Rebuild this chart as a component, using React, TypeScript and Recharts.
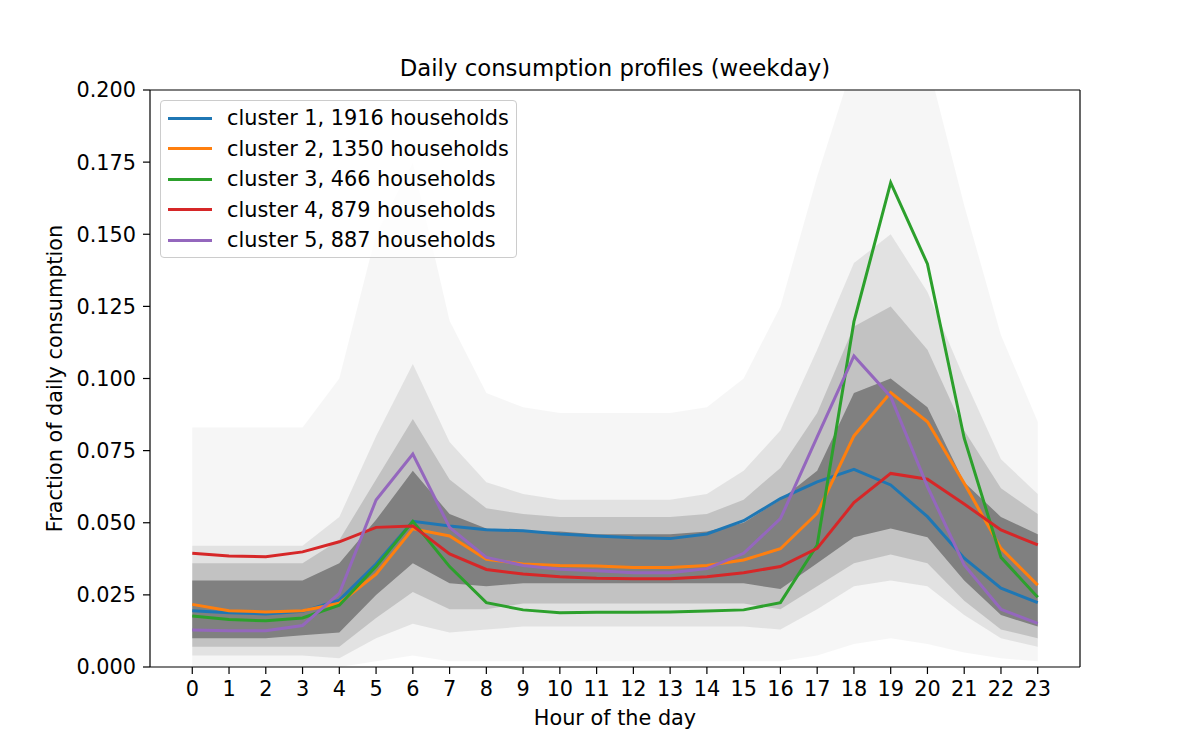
import React from "react";
import { Area, ComposedChart, Label, Line, ReferenceLine, XAxis, YAxis } from "recharts";

// hours of the day
const hours = [0, 1, 2, 3, 4, 5, 6, 7, 8, 9, 10, 11, 12, 13, 14, 15, 16, 17, 18, 19, 20, 21, 22, 23];

// cluster mean profiles (fraction of daily consumption)
const cluster1 = [0.0195, 0.0188, 0.0184, 0.0193, 0.0232, 0.0357, 0.0505, 0.0489, 0.0476, 0.0472, 0.0461, 0.0454, 0.0448, 0.0445, 0.0461, 0.0507, 0.0584, 0.0642, 0.0685, 0.0631, 0.0521, 0.0377, 0.0273, 0.0223];
const cluster2 = [0.0217, 0.0195, 0.0191, 0.0195, 0.0221, 0.0322, 0.0479, 0.0454, 0.0373, 0.0357, 0.0352, 0.035, 0.0345, 0.0345, 0.0352, 0.0371, 0.041, 0.0533, 0.0801, 0.0951, 0.085, 0.0637, 0.0411, 0.0284];
const cluster3 = [0.0177, 0.0165, 0.016, 0.017, 0.0214, 0.0348, 0.0505, 0.0348, 0.0223, 0.0198, 0.0188, 0.019, 0.019, 0.0191, 0.0194, 0.0198, 0.0223, 0.0423, 0.1197, 0.1679, 0.1397, 0.0793, 0.038, 0.0242];
const cluster4 = [0.0394, 0.0385, 0.0382, 0.0399, 0.0434, 0.0484, 0.0489, 0.0392, 0.0338, 0.0322, 0.0313, 0.0308, 0.0306, 0.0306, 0.0313, 0.0327, 0.0348, 0.0411, 0.057, 0.0671, 0.0651, 0.0565, 0.0475, 0.0423];
const cluster5 = [0.0128, 0.0126, 0.0126, 0.0144, 0.0255, 0.0579, 0.0738, 0.0484, 0.038, 0.0352, 0.0339, 0.0334, 0.0327, 0.0327, 0.0341, 0.0394, 0.0514, 0.0798, 0.1078, 0.0937, 0.0625, 0.0354, 0.02, 0.0151];

const clusterNames = [
	"cluster 1, 1916 households",
	"cluster 2, 1350 households",
	"cluster 3, 466 households",
	"cluster 4, 879 households",
	"cluster 5, 887 households",
];
const clusterColors = ["#1f77b4", "#ff7f0e", "#2ca02c", "#d62728", "#9467bd"];

// envelope of the individual household curves, drawn as grey bands
const coreLo = [0.01, 0.01, 0.01, 0.011, 0.012, 0.025, 0.036, 0.029, 0.028, 0.029, 0.029, 0.029, 0.029, 0.029, 0.029, 0.029, 0.027, 0.036, 0.045, 0.048, 0.045, 0.03, 0.018, 0.014];
const coreHi = [0.03, 0.03, 0.03, 0.03, 0.036, 0.051, 0.068, 0.053, 0.048, 0.047, 0.047, 0.046, 0.046, 0.046, 0.047, 0.05, 0.058, 0.068, 0.095, 0.1, 0.09, 0.064, 0.052, 0.046];
const innerLo = [0.007, 0.007, 0.007, 0.007, 0.007, 0.017, 0.026, 0.02, 0.02, 0.022, 0.022, 0.022, 0.022, 0.022, 0.022, 0.022, 0.02, 0.028, 0.036, 0.039, 0.036, 0.023, 0.013, 0.01];
const innerHi = [0.036, 0.036, 0.036, 0.036, 0.044, 0.065, 0.086, 0.065, 0.055, 0.053, 0.052, 0.052, 0.052, 0.052, 0.053, 0.058, 0.069, 0.088, 0.118, 0.125, 0.11, 0.082, 0.062, 0.053];
const midLo = [0.004, 0.004, 0.004, 0.004, 0.003, 0.01, 0.015, 0.012, 0.013, 0.014, 0.014, 0.014, 0.014, 0.014, 0.014, 0.014, 0.013, 0.02, 0.028, 0.03, 0.028, 0.018, 0.01, 0.007];
const midHi = [0.042, 0.042, 0.042, 0.042, 0.052, 0.08, 0.105, 0.078, 0.064, 0.06, 0.058, 0.058, 0.058, 0.058, 0.06, 0.068, 0.082, 0.11, 0.14, 0.15, 0.13, 0.1, 0.072, 0.06];
const outerLo = [0, 0, 0, 0, 0, 0.002, 0.004, 0.002, 0.002, 0.002, 0.002, 0.002, 0.002, 0.002, 0.002, 0.002, 0.002, 0.004, 0.008, 0.01, 0.008, 0.005, 0.003, 0.002];
const outerHi = [0.083, 0.083, 0.083, 0.083, 0.1, 0.15, 0.175, 0.12, 0.095, 0.09, 0.088, 0.088, 0.088, 0.088, 0.09, 0.1, 0.125, 0.17, 0.21, 0.21, 0.21, 0.16, 0.115, 0.085];

const yTicks = [0, 0.025, 0.05, 0.075, 0.1, 0.125, 0.15, 0.175, 0.2];

const FONT = "DejaVu Sans";
const FS = 20.8;
const X_DOMAIN: [number, number] = [-1.15, 24.15];

const data = hours.map((h, i) => ({
	hour: h,
	c1: cluster1[i],
	c2: cluster2[i],
	c3: cluster3[i],
	c4: cluster4[i],
	c5: cluster5[i],
	core: [coreLo[i], coreHi[i]],
	inner: [innerLo[i], innerHi[i]],
	mid: [midLo[i], midHi[i]],
	outer: [outerLo[i], outerHi[i]],
}));

const seriesKeys = ["c1", "c2", "c3", "c4", "c5"];
const bands = [
	{ key: "outer", opacity: 0.07 },
	{ key: "mid", opacity: 0.17 },
	{ key: "inner", opacity: 0.32 },
	{ key: "core", opacity: 1 },
];

function LegendBox(): React.ReactElement {
	return (
		<div
			style={{
				position: "absolute",
				left: 160,
				top: 100,
				width: 357,
				height: 158,
				boxSizing: "border-box",
				background: "rgba(255,255,255,0.8)",
				border: "1px solid #cccccc",
				borderRadius: 4,
				fontFamily: FONT,
				fontSize: FS,
				color: "#000",
			}}
		>
			{clusterNames.map((name, i) => (
				<div
					key={name}
					style={{
						position: "absolute",
						left: 0,
						top: 17 + i * 30.5 - 15,
						height: 30,
						lineHeight: "30px",
						whiteSpace: "nowrap",
					}}
				>
					<span
						style={{
							position: "absolute",
							left: 7,
							top: 13.5,
							width: 44,
							height: 3,
							background: clusterColors[i],
						}}
					/>
					<span style={{ position: "absolute", left: 66 }}>{name}</span>
				</div>
			))}
		</div>
	);
}

export default function App(): React.ReactElement {
	return (
		<div style={{ position: "absolute", left: 0, top: 0, width: 1200, height: 750, background: "#fff" }}>
			<ComposedChart
				width={1200}
				height={750}
				data={data}
				margin={{ top: 90, right: 120, bottom: 43, left: 70 }}
			>
				<XAxis
					dataKey="hour"
					type="number"
					domain={X_DOMAIN}
					ticks={hours}
					allowDataOverflow
					interval={0}
					height={40}
					tickSize={7}
					tickMargin={7}
					tick={{ fontSize: FS, fill: "#000", fontFamily: FONT }}
					tickLine={{ stroke: "#000", strokeWidth: 1.2 }}
					axisLine={{ stroke: "#000", strokeWidth: 1.2 }}
				>
					<Label
						content={({ viewBox }: any) => {
							const cx = viewBox.x + viewBox.width / 2;
							return (
								<g>
									<text x={cx} y={725} textAnchor="middle" fontSize={FS} fontFamily={FONT} fill="#000">
										Hour of the day
									</text>
									<text x={cx} y={76} textAnchor="middle" fontSize={22.8} fontFamily={FONT} fill="#000">
										Daily consumption profiles (weekday)
									</text>
								</g>
							);
						}}
					/>
				</XAxis>
				<YAxis
					type="number"
					domain={[0, 0.2]}
					ticks={yTicks}
					allowDataOverflow
					width={80}
					tickSize={7}
					tickMargin={7}
					tickFormatter={(v: number) => v.toFixed(3)}
					tick={{ fontSize: FS, fill: "#000", fontFamily: FONT }}
					tickLine={{ stroke: "#000", strokeWidth: 1.2 }}
					axisLine={{ stroke: "#000", strokeWidth: 1.2 }}
				>
					<Label
						content={({ viewBox }: any) => {
							const cy = viewBox.y + viewBox.height / 2;
							return (
								<text
									x={62}
									y={cy}
									transform={`rotate(-90, 62, ${cy})`}
									textAnchor="middle"
									fontSize={FS}
									fontFamily={FONT}
									fill="#000"
								>
									Fraction of daily consumption
								</text>
							);
						}}
					/>
				</YAxis>
				{bands.map((b) => (
					<Area
						key={b.key}
						type="linear"
						dataKey={b.key}
						stroke="none"
						fill="#808080"
						fillOpacity={b.opacity}
						dot={false}
						activeDot={false}
						isAnimationActive={false}
					/>
				))}
				{seriesKeys.map((key, i) => (
					<Line
						key={key}
						type="linear"
						dataKey={key}
						stroke={clusterColors[i]}
						strokeWidth={3}
						dot={false}
						activeDot={false}
						isAnimationActive={false}
					/>
				))}
				<ReferenceLine y={0.2} stroke="#000" strokeWidth={1.2} ifOverflow="extendDomain" />
				<ReferenceLine x={X_DOMAIN[1]} stroke="#000" strokeWidth={1.2} ifOverflow="extendDomain" />
			</ComposedChart>
			<LegendBox />
		</div>
	);
}
